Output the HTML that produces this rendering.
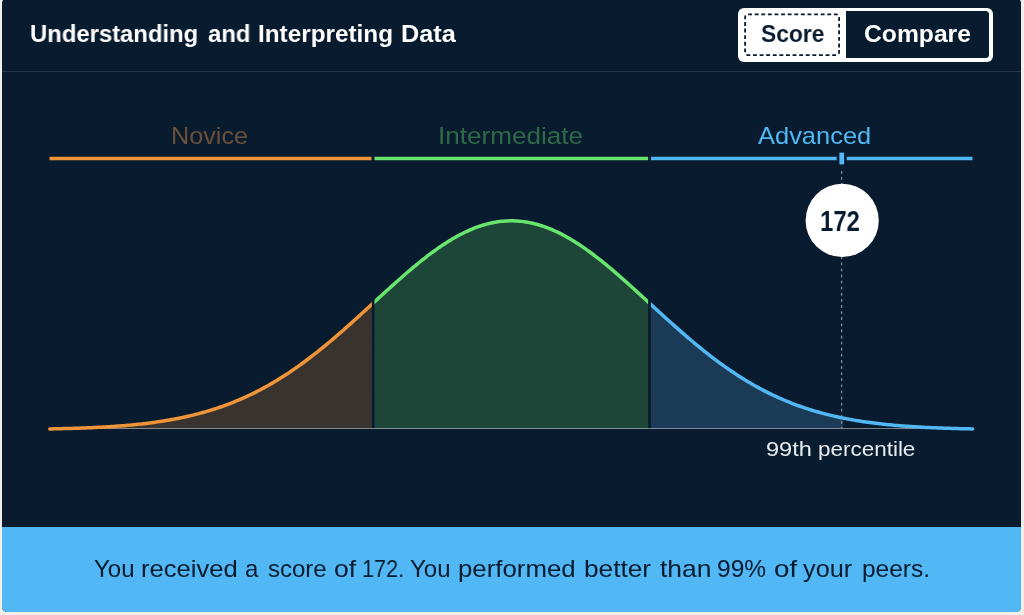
<!DOCTYPE html>
<html><head><meta charset="utf-8">
<style>
html,body{margin:0;padding:0;}
body{width:1024px;height:615px;background:#f2efe9;overflow:hidden;position:relative;font-family:"Liberation Sans",sans-serif;}
#panel{position:absolute;left:2px;top:-2px;width:1019px;height:614px;background:#091b2e;border-radius:5px;overflow:hidden;}
#divider{position:absolute;left:2px;top:71px;width:1019px;height:1px;background:#25344a;}
#toggle{position:absolute;left:738.3px;top:7.5px;width:254.7px;height:54.2px;border-radius:6px;background:#fff;}
#tin{position:absolute;left:845.9px;top:11px;width:143.4px;height:47.3px;border-radius:0 3.5px 3.5px 0;background:#091b2e;}
#score{position:absolute;left:738.3px;top:7.5px;width:107.6px;height:54.2px;background:#fff;border-radius:6px 0 0 6px;}
#dash{position:absolute;left:744.5px;top:13.5px;width:95px;height:42px;border:1.5px dashed #091b2e;border-radius:4px;box-sizing:border-box;}
#banner{position:absolute;left:0;top:529px;width:1019px;height:85px;background:#51b8f5;}
.t{position:absolute;white-space:nowrap;line-height:normal;transform-origin:0 0;will-change:transform;}
svg{position:absolute;left:0;top:0;}
</style></head><body>
<div id="panel"><div id="banner"></div></div>
<div id="divider"></div>
<div id="toggle"></div><div id="tin"></div>
<svg width="1024" height="615" viewBox="0 0 1024 615">
<line x1="49.5" y1="158.5" x2="371.5" y2="158.5" stroke="#f0943a" stroke-width="3.4"/>
<line x1="374.5" y1="158.5" x2="648.1" y2="158.5" stroke="#68e56e" stroke-width="3.4"/>
<line x1="651" y1="158.5" x2="972.5" y2="158.5" stroke="#51b8f5" stroke-width="3.4"/>
<rect x="836.7" y="151" width="10" height="16" fill="#091b2e"/>
<rect x="839.4" y="152.6" width="4.7" height="11.8" fill="#51b8f5"/>
<path d="M49.8,428.92 L51.8,428.88 L53.8,428.84 L55.8,428.80 L57.8,428.76 L59.8,428.71 L61.8,428.66 L63.8,428.61 L65.8,428.56 L67.8,428.51 L69.8,428.45 L71.8,428.39 L73.8,428.33 L75.8,428.26 L77.8,428.20 L79.8,428.13 L81.8,428.05 L83.8,427.98 L85.8,427.90 L87.8,427.82 L89.8,427.73 L91.8,427.64 L93.8,427.55 L95.8,427.45 L97.8,427.35 L99.8,427.25 L101.8,427.14 L103.8,427.03 L105.8,426.91 L107.8,426.79 L109.8,426.67 L111.8,426.54 L113.8,426.40 L115.8,426.26 L117.8,426.12 L119.8,425.97 L121.8,425.81 L123.8,425.65 L125.8,425.48 L127.8,425.30 L129.8,425.12 L131.8,424.94 L133.8,424.75 L135.8,424.55 L137.8,424.34 L139.8,424.12 L141.8,423.90 L143.8,423.67 L145.8,423.44 L147.8,423.19 L149.8,422.94 L151.8,422.68 L153.8,422.41 L155.8,422.13 L157.8,421.85 L159.8,421.55 L161.8,421.24 L163.8,420.93 L165.8,420.60 L167.8,420.27 L169.8,419.92 L171.8,419.57 L173.8,419.20 L175.8,418.82 L177.8,418.43 L179.8,418.03 L181.8,417.62 L183.8,417.20 L185.8,416.76 L187.8,416.31 L189.8,415.85 L191.8,415.38 L193.8,414.89 L195.8,414.39 L197.8,413.88 L199.8,413.35 L201.8,412.81 L203.8,412.25 L205.8,411.68 L207.8,411.09 L209.8,410.49 L211.8,409.88 L213.8,409.25 L215.8,408.60 L217.8,407.94 L219.8,407.26 L221.8,406.56 L223.8,405.85 L225.8,405.12 L227.8,404.38 L229.8,403.62 L231.8,402.84 L233.8,402.04 L235.8,401.22 L237.8,400.39 L239.8,399.54 L241.8,398.67 L243.8,397.78 L245.8,396.88 L247.8,395.95 L249.8,395.01 L251.8,394.05 L253.8,393.07 L255.8,392.07 L257.8,391.05 L259.8,390.01 L261.8,388.95 L263.8,387.87 L265.8,386.77 L267.8,385.66 L269.8,384.52 L271.8,383.37 L273.8,382.19 L275.8,381.00 L277.8,379.78 L279.8,378.55 L281.8,377.30 L283.8,376.02 L285.8,374.73 L287.8,373.42 L289.8,372.09 L291.8,370.74 L293.8,369.37 L295.8,367.98 L297.8,366.58 L299.8,365.15 L301.8,363.71 L303.8,362.25 L305.8,360.77 L307.8,359.27 L309.8,357.76 L311.8,356.23 L313.8,354.68 L315.8,353.12 L317.8,351.54 L319.8,349.94 L321.8,348.33 L323.8,346.70 L325.8,345.06 L327.8,343.40 L329.8,341.73 L331.8,340.05 L333.8,338.35 L335.8,336.64 L337.8,334.92 L339.8,333.19 L341.8,331.45 L343.8,329.69 L345.8,327.93 L347.8,326.16 L349.8,324.37 L351.8,322.58 L353.8,320.78 L355.8,318.98 L357.8,317.17 L359.8,315.35 L361.8,313.53 L363.8,311.70 L365.8,309.88 L367.8,308.04 L369.8,306.21 L371.8,304.37 L371.9,304.28 L371.9,428.7 L49.8,428.7 Z" fill="#39332f"/>
<path d="M374.5,301.89 L376.5,300.06 L378.5,298.22 L380.5,296.39 L382.5,294.56 L384.5,292.74 L386.5,290.91 L388.5,289.10 L390.5,287.29 L392.5,285.48 L394.5,283.69 L396.5,281.90 L398.5,280.13 L400.5,278.36 L402.5,276.60 L404.5,274.86 L406.5,273.13 L408.5,271.42 L410.5,269.71 L412.5,268.03 L414.5,266.36 L416.5,264.71 L418.5,263.07 L420.5,261.46 L422.5,259.87 L424.5,258.29 L426.5,256.74 L428.5,255.21 L430.5,253.71 L432.5,252.23 L434.5,250.77 L436.5,249.34 L438.5,247.94 L440.5,246.56 L442.5,245.21 L444.5,243.89 L446.5,242.61 L448.5,241.35 L450.5,240.12 L452.5,238.93 L454.5,237.77 L456.5,236.64 L458.5,235.54 L460.5,234.49 L462.5,233.46 L464.5,232.47 L466.5,231.52 L468.5,230.61 L470.5,229.73 L472.5,228.90 L474.5,228.10 L476.5,227.34 L478.5,226.62 L480.5,225.94 L482.5,225.30 L484.5,224.70 L486.5,224.15 L488.5,223.63 L490.5,223.16 L492.5,222.73 L494.5,222.34 L496.5,222.00 L498.5,221.70 L500.5,221.44 L502.5,221.22 L504.5,221.05 L506.5,220.93 L508.5,220.84 L510.5,220.80 L512.5,220.81 L514.5,220.86 L516.5,220.95 L518.5,221.08 L520.5,221.26 L522.5,221.49 L524.5,221.75 L526.5,222.06 L528.5,222.42 L530.5,222.81 L532.5,223.25 L534.5,223.73 L536.5,224.25 L538.5,224.82 L540.5,225.42 L542.5,226.07 L544.5,226.76 L546.5,227.49 L548.5,228.25 L550.5,229.06 L552.5,229.91 L554.5,230.79 L556.5,231.71 L558.5,232.67 L560.5,233.66 L562.5,234.69 L564.5,235.76 L566.5,236.86 L568.5,238.00 L570.5,239.16 L572.5,240.36 L574.5,241.60 L576.5,242.86 L578.5,244.16 L580.5,245.48 L582.5,246.83 L584.5,248.21 L586.5,249.62 L588.5,251.06 L590.5,252.52 L592.5,254.01 L594.5,255.52 L596.5,257.05 L598.5,258.61 L600.5,260.18 L602.5,261.78 L604.5,263.40 L606.5,265.04 L608.5,266.69 L610.5,268.36 L612.5,270.05 L614.5,271.76 L616.5,273.48 L618.5,275.21 L620.5,276.95 L622.5,278.71 L624.5,280.48 L626.5,282.26 L628.5,284.05 L630.5,285.84 L632.5,287.65 L634.5,289.46 L636.5,291.28 L638.5,293.10 L640.5,294.93 L642.5,296.76 L644.5,298.59 L646.5,300.43 L648.1,301.89 L648.1,428.7 L374.5,428.7 Z" fill="#1e4638"/>
<clipPath id="cf"><rect x="600" y="150" width="243.2" height="300"/></clipPath>
<path d="M650.9,304.46 L652.9,306.30 L654.9,308.13 L656.9,309.97 L658.9,311.80 L660.9,313.62 L662.9,315.44 L664.9,317.26 L666.9,319.07 L668.9,320.88 L670.9,322.67 L672.9,324.46 L674.9,326.24 L676.9,328.02 L678.9,329.78 L680.9,331.53 L682.9,333.28 L684.9,335.01 L686.9,336.73 L688.9,338.44 L690.9,340.13 L692.9,341.82 L694.9,343.49 L696.9,345.14 L698.9,346.78 L700.9,348.41 L702.9,350.02 L704.9,351.62 L706.9,353.19 L708.9,354.76 L710.9,356.31 L712.9,357.84 L714.9,359.35 L716.9,360.84 L718.9,362.32 L720.9,363.78 L722.9,365.22 L724.9,366.65 L726.9,368.05 L728.9,369.44 L730.9,370.81 L732.9,372.16 L734.9,373.48 L736.9,374.80 L738.9,376.09 L740.9,377.36 L742.9,378.61 L744.9,379.84 L746.9,381.06 L748.9,382.25 L750.9,383.42 L752.9,384.58 L754.9,385.71 L756.9,386.83 L758.9,387.93 L760.9,389.00 L762.9,390.06 L764.9,391.10 L766.9,392.12 L768.9,393.12 L770.9,394.10 L772.9,395.06 L774.9,396.00 L776.9,396.92 L778.9,397.83 L780.9,398.71 L782.9,399.58 L784.9,400.43 L786.9,401.26 L788.9,402.08 L790.9,402.87 L792.9,403.65 L794.9,404.42 L796.9,405.16 L798.9,405.89 L800.9,406.60 L802.9,407.29 L804.9,407.97 L806.9,408.63 L808.9,409.28 L810.9,409.91 L812.9,410.52 L814.9,411.12 L816.9,411.71 L818.9,412.28 L820.9,412.83 L822.9,413.38 L824.9,413.90 L826.9,414.42 L828.9,414.92 L830.9,415.40 L832.9,415.88 L834.9,416.34 L836.9,416.78 L838.9,417.22 L840.9,417.64 L842.9,418.05 L844.9,418.45 L846.9,418.84 L848.9,419.22 L850.9,419.59 L852.9,419.94 L854.9,420.29 L856.9,420.62 L858.9,420.95 L860.9,421.26 L862.9,421.57 L864.9,421.86 L866.9,422.15 L868.9,422.43 L870.9,422.69 L872.9,422.95 L874.9,423.21 L876.9,423.45 L878.9,423.69 L880.9,423.91 L882.9,424.14 L884.9,424.35 L886.9,424.56 L888.9,424.76 L890.9,424.95 L892.9,425.13 L894.9,425.31 L896.9,425.49 L898.9,425.66 L900.9,425.82 L902.9,425.97 L904.9,426.12 L906.9,426.27 L908.9,426.41 L910.9,426.54 L912.9,426.67 L914.9,426.80 L916.9,426.92 L918.9,427.04 L920.9,427.15 L922.9,427.26 L924.9,427.36 L926.9,427.46 L928.9,427.55 L930.9,427.65 L932.9,427.74 L934.9,427.82 L936.9,427.90 L938.9,427.98 L940.9,428.06 L942.9,428.13 L944.9,428.20 L946.9,428.27 L948.9,428.33 L950.9,428.39 L952.9,428.45 L954.9,428.51 L956.9,428.56 L958.9,428.61 L960.9,428.66 L962.9,428.71 L964.9,428.76 L966.9,428.80 L968.9,428.84 L970.9,428.88 L972.6,428.92 L972.6,428.7 L650.9,428.7 Z" fill="#1b3a55" clip-path="url(#cf)"/>
<line x1="49.5" y1="428.5" x2="973" y2="428.5" stroke="#fff" stroke-opacity="0.45" stroke-width="1"/>
<line x1="841.6" y1="170.9" x2="841.6" y2="428.6" stroke="#7f8997" stroke-width="1.3" stroke-dasharray="2.8,3.3"/>
<defs><clipPath id="cn"><rect x="44.8" y="150" width="327.09999999999997" height="300"/></clipPath>
<clipPath id="ci"><rect x="374.5" y="150" width="273.60" height="300"/></clipPath>
<clipPath id="ca"><rect x="650.9" y="150" width="326.70" height="300"/></clipPath></defs>
<path d="M49.8,428.92 L51.8,428.88 L53.8,428.84 L55.8,428.80 L57.8,428.76 L59.8,428.71 L61.8,428.66 L63.8,428.61 L65.8,428.56 L67.8,428.51 L69.8,428.45 L71.8,428.39 L73.8,428.33 L75.8,428.26 L77.8,428.20 L79.8,428.13 L81.8,428.05 L83.8,427.98 L85.8,427.90 L87.8,427.82 L89.8,427.73 L91.8,427.64 L93.8,427.55 L95.8,427.45 L97.8,427.35 L99.8,427.25 L101.8,427.14 L103.8,427.03 L105.8,426.91 L107.8,426.79 L109.8,426.67 L111.8,426.54 L113.8,426.40 L115.8,426.26 L117.8,426.12 L119.8,425.97 L121.8,425.81 L123.8,425.65 L125.8,425.48 L127.8,425.30 L129.8,425.12 L131.8,424.94 L133.8,424.75 L135.8,424.55 L137.8,424.34 L139.8,424.12 L141.8,423.90 L143.8,423.67 L145.8,423.44 L147.8,423.19 L149.8,422.94 L151.8,422.68 L153.8,422.41 L155.8,422.13 L157.8,421.85 L159.8,421.55 L161.8,421.24 L163.8,420.93 L165.8,420.60 L167.8,420.27 L169.8,419.92 L171.8,419.57 L173.8,419.20 L175.8,418.82 L177.8,418.43 L179.8,418.03 L181.8,417.62 L183.8,417.20 L185.8,416.76 L187.8,416.31 L189.8,415.85 L191.8,415.38 L193.8,414.89 L195.8,414.39 L197.8,413.88 L199.8,413.35 L201.8,412.81 L203.8,412.25 L205.8,411.68 L207.8,411.09 L209.8,410.49 L211.8,409.88 L213.8,409.25 L215.8,408.60 L217.8,407.94 L219.8,407.26 L221.8,406.56 L223.8,405.85 L225.8,405.12 L227.8,404.38 L229.8,403.62 L231.8,402.84 L233.8,402.04 L235.8,401.22 L237.8,400.39 L239.8,399.54 L241.8,398.67 L243.8,397.78 L245.8,396.88 L247.8,395.95 L249.8,395.01 L251.8,394.05 L253.8,393.07 L255.8,392.07 L257.8,391.05 L259.8,390.01 L261.8,388.95 L263.8,387.87 L265.8,386.77 L267.8,385.66 L269.8,384.52 L271.8,383.37 L273.8,382.19 L275.8,381.00 L277.8,379.78 L279.8,378.55 L281.8,377.30 L283.8,376.02 L285.8,374.73 L287.8,373.42 L289.8,372.09 L291.8,370.74 L293.8,369.37 L295.8,367.98 L297.8,366.58 L299.8,365.15 L301.8,363.71 L303.8,362.25 L305.8,360.77 L307.8,359.27 L309.8,357.76 L311.8,356.23 L313.8,354.68 L315.8,353.12 L317.8,351.54 L319.8,349.94 L321.8,348.33 L323.8,346.70 L325.8,345.06 L327.8,343.40 L329.8,341.73 L331.8,340.05 L333.8,338.35 L335.8,336.64 L337.8,334.92 L339.8,333.19 L341.8,331.45 L343.8,329.69 L345.8,327.93 L347.8,326.16 L349.8,324.37 L351.8,322.58 L353.8,320.78 L355.8,318.98 L357.8,317.17 L359.8,315.35 L361.8,313.53 L363.8,311.70 L365.8,309.88 L367.8,308.04 L369.8,306.21 L371.8,304.37 L373.8,302.54 L374.9,301.53" fill="none" stroke="#f0943a" stroke-width="3.5" stroke-linecap="round" clip-path="url(#cn)"/>
<path d="M371.5,304.65 L373.5,302.81 L375.5,300.98 L377.5,299.14 L379.5,297.31 L381.5,295.48 L383.5,293.65 L385.5,291.82 L387.5,290.01 L389.5,288.19 L391.5,286.39 L393.5,284.59 L395.5,282.80 L397.5,281.01 L399.5,279.24 L401.5,277.48 L403.5,275.73 L405.5,273.99 L407.5,272.27 L409.5,270.56 L411.5,268.87 L413.5,267.19 L415.5,265.53 L417.5,263.89 L419.5,262.26 L421.5,260.66 L423.5,259.08 L425.5,257.51 L427.5,255.97 L429.5,254.46 L431.5,252.96 L433.5,251.49 L435.5,250.05 L437.5,248.63 L439.5,247.24 L441.5,245.88 L443.5,244.55 L445.5,243.25 L447.5,241.97 L449.5,240.73 L451.5,239.52 L453.5,238.34 L455.5,237.20 L457.5,236.09 L459.5,235.01 L461.5,233.97 L463.5,232.96 L465.5,231.99 L467.5,231.06 L469.5,230.17 L471.5,229.31 L473.5,228.49 L475.5,227.71 L477.5,226.97 L479.5,226.27 L481.5,225.61 L483.5,225.00 L485.5,224.42 L487.5,223.88 L489.5,223.39 L491.5,222.94 L493.5,222.53 L495.5,222.16 L497.5,221.84 L499.5,221.56 L501.5,221.33 L503.5,221.13 L505.5,220.98 L507.5,220.88 L509.5,220.82 L511.5,220.80 L513.5,220.83 L515.5,220.90 L517.5,221.01 L519.5,221.17 L521.5,221.37 L523.5,221.61 L525.5,221.90 L527.5,222.23 L529.5,222.61 L531.5,223.03 L533.5,223.49 L535.5,223.99 L537.5,224.53 L539.5,225.12 L541.5,225.74 L543.5,226.41 L545.5,227.12 L547.5,227.87 L549.5,228.65 L551.5,229.48 L553.5,230.34 L555.5,231.24 L557.5,232.18 L559.5,233.16 L561.5,234.17 L563.5,235.22 L565.5,236.31 L567.5,237.42 L569.5,238.58 L571.5,239.76 L573.5,240.98 L575.5,242.23 L577.5,243.50 L579.5,244.81 L581.5,246.15 L583.5,247.52 L585.5,248.92 L587.5,250.34 L589.5,251.79 L591.5,253.26 L593.5,254.76 L595.5,256.28 L597.5,257.82 L599.5,259.39 L601.5,260.98 L603.5,262.59 L605.5,264.22 L607.5,265.86 L609.5,267.53 L611.5,269.21 L613.5,270.90 L615.5,272.61 L617.5,274.34 L619.5,276.08 L621.5,277.83 L623.5,279.59 L625.5,281.37 L627.5,283.15 L629.5,284.95 L631.5,286.75 L633.5,288.55 L635.5,290.37 L637.5,292.19 L639.5,294.01 L641.5,295.84 L643.5,297.67 L645.5,299.51 L647.5,301.34 L649.5,303.18 L651.1,304.65" fill="none" stroke="#68e56e" stroke-width="3.5" stroke-linecap="round" clip-path="url(#ci)"/>
<path d="M647.9,301.71 L649.9,303.55 L651.9,305.38 L653.9,307.22 L655.9,309.05 L657.9,310.88 L659.9,312.71 L661.9,314.53 L663.9,316.35 L665.9,318.17 L667.9,319.97 L669.9,321.77 L671.9,323.57 L673.9,325.35 L675.9,327.13 L677.9,328.90 L679.9,330.66 L681.9,332.41 L683.9,334.15 L685.9,335.87 L687.9,337.59 L689.9,339.29 L691.9,340.98 L693.9,342.65 L695.9,344.32 L697.9,345.96 L699.9,347.60 L701.9,349.22 L703.9,350.82 L705.9,352.41 L707.9,353.98 L709.9,355.53 L711.9,357.07 L713.9,358.59 L715.9,360.10 L717.9,361.58 L719.9,363.05 L721.9,364.50 L723.9,365.94 L725.9,367.35 L727.9,368.75 L729.9,370.13 L731.9,371.48 L733.9,372.82 L735.9,374.14 L737.9,375.44 L739.9,376.72 L741.9,377.99 L743.9,379.23 L745.9,380.45 L747.9,381.66 L749.9,382.84 L751.9,384.00 L753.9,385.15 L755.9,386.27 L757.9,387.38 L759.9,388.47 L761.9,389.53 L763.9,390.58 L765.9,391.61 L767.9,392.62 L769.9,393.61 L771.9,394.58 L773.9,395.53 L775.9,396.46 L777.9,397.38 L779.9,398.27 L781.9,399.15 L783.9,400.01 L785.9,400.85 L787.9,401.67 L789.9,402.48 L791.9,403.27 L793.9,404.04 L795.9,404.79 L797.9,405.53 L799.9,406.25 L801.9,406.95 L803.9,407.63 L805.9,408.30 L807.9,408.96 L809.9,409.60 L811.9,410.22 L813.9,410.83 L815.9,411.42 L817.9,412.00 L819.9,412.56 L821.9,413.11 L823.9,413.64 L825.9,414.16 L827.9,414.67 L829.9,415.16 L831.9,415.64 L833.9,416.11 L835.9,416.56 L837.9,417.00 L839.9,417.43 L841.9,417.85 L843.9,418.26 L845.9,418.65 L847.9,419.03 L849.9,419.40 L851.9,419.77 L853.9,420.12 L855.9,420.45 L857.9,420.78 L859.9,421.10 L861.9,421.41 L863.9,421.71 L865.9,422.01 L867.9,422.29 L869.9,422.56 L871.9,422.83 L873.9,423.08 L875.9,423.33 L877.9,423.57 L879.9,423.80 L881.9,424.03 L883.9,424.24 L885.9,424.45 L887.9,424.66 L889.9,424.85 L891.9,425.04 L893.9,425.22 L895.9,425.40 L897.9,425.57 L899.9,425.74 L901.9,425.90 L903.9,426.05 L905.9,426.20 L907.9,426.34 L909.9,426.48 L911.9,426.61 L913.9,426.74 L915.9,426.86 L917.9,426.98 L919.9,427.09 L921.9,427.20 L923.9,427.31 L925.9,427.41 L927.9,427.51 L929.9,427.60 L931.9,427.69 L933.9,427.78 L935.9,427.86 L937.9,427.94 L939.9,428.02 L941.9,428.09 L943.9,428.17 L945.9,428.23 L947.9,428.30 L949.9,428.36 L951.9,428.42 L953.9,428.48 L955.9,428.54 L957.9,428.59 L959.9,428.64 L961.9,428.69 L963.9,428.74 L965.9,428.78 L967.9,428.82 L969.9,428.86 L971.9,428.90 L972.6,428.92" fill="none" stroke="#51b8f5" stroke-width="3.5" stroke-linecap="round" clip-path="url(#ca)"/>
<rect x="745.1" y="14.3" width="94" height="40.8" rx="3" fill="none" stroke="#091b2e" stroke-width="1.8" stroke-dasharray="3.9 2.7"/>
<circle cx="842.2" cy="220.4" r="36.6" fill="#fff"/>
</svg>
<span class="t" style="left:30.02px;top:20.20px;font-size:24.3px;font-weight:bold;color:#fff;transform:scaleX(0.9812);">Understanding</span>
<span class="t" style="left:207.50px;top:20.20px;font-size:24.3px;font-weight:bold;color:#fff;transform:scaleX(0.9846);">and</span>
<span class="t" style="left:258.20px;top:20.20px;font-size:24.3px;font-weight:bold;color:#fff;transform:scaleX(0.9967);">Interpreting</span>
<span class="t" style="left:400.66px;top:20.20px;font-size:24.3px;font-weight:bold;color:#fff;transform:scaleX(1.0412);">Data</span>
<span class="t" style="left:761.20px;top:20.20px;font-size:24.3px;font-weight:bold;color:#091b2e;transform:scaleX(0.9386);">Score</span>
<span class="t" style="left:863.68px;top:20.20px;font-size:24.3px;font-weight:bold;color:#fff;transform:scaleX(1.0154);">Compare</span>
<span class="t" style="left:171.35px;top:121.70px;font-size:24px;font-weight:normal;color:#6b5039;transform:scaleX(1.0498);">Novice</span>
<span class="t" style="left:437.65px;top:121.60px;font-size:24.3px;font-weight:normal;color:#2f6a48;transform:scaleX(1.0744);">Intermediate</span>
<span class="t" style="left:757.60px;top:122.10px;font-size:24px;font-weight:normal;color:#51b8f5;transform:scaleX(1.0607);">Advanced</span>
<span class="t" style="left:765.90px;top:437.70px;font-size:20px;font-weight:normal;color:#e8ecf0;transform:scaleX(1.1798);">99th</span>
<span class="t" style="left:817.98px;top:437.70px;font-size:20px;font-weight:normal;color:#e8ecf0;transform:scaleX(1.1227);">percentile</span>
<span class="t" style="left:94.30px;top:554.70px;font-size:24px;font-weight:normal;color:#091b2e;transform:scaleX(0.9936);">You</span>
<span class="t" style="left:141.43px;top:554.70px;font-size:24px;font-weight:normal;color:#091b2e;transform:scaleX(1.0671);">received</span>
<span class="t" style="left:244.81px;top:554.70px;font-size:24px;font-weight:normal;color:#091b2e;transform:scaleX(0.9923);">a</span>
<span class="t" style="left:267.50px;top:554.70px;font-size:24px;font-weight:normal;color:#091b2e;transform:scaleX(0.9942);">score</span>
<span class="t" style="left:334.39px;top:554.70px;font-size:24px;font-weight:normal;color:#091b2e;transform:scaleX(1.1061);">of</span>
<span class="t" style="left:362.10px;top:554.70px;font-size:24px;font-weight:normal;color:#091b2e;transform:scaleX(0.9014);">172.</span>
<span class="t" style="left:410.00px;top:554.70px;font-size:24px;font-weight:normal;color:#091b2e;transform:scaleX(0.9884);">You</span>
<span class="t" style="left:457.92px;top:554.70px;font-size:24px;font-weight:normal;color:#091b2e;transform:scaleX(1.0753);">performed</span>
<span class="t" style="left:583.51px;top:554.70px;font-size:24px;font-weight:normal;color:#091b2e;transform:scaleX(1.0931);">better</span>
<span class="t" style="left:659.60px;top:554.70px;font-size:24px;font-weight:normal;color:#091b2e;transform:scaleX(1.1022);">than</span>
<span class="t" style="left:717.18px;top:554.70px;font-size:24px;font-weight:normal;color:#091b2e;transform:scaleX(1.0215);">99%</span>
<span class="t" style="left:773.65px;top:554.70px;font-size:24px;font-weight:normal;color:#091b2e;transform:scaleX(1.1526);">of</span>
<span class="t" style="left:803.00px;top:554.70px;font-size:24px;font-weight:normal;color:#091b2e;transform:scaleX(1.0536);">your</span>
<span class="t" style="left:861.68px;top:554.70px;font-size:24px;font-weight:normal;color:#091b2e;transform:scaleX(1.0198);">peers.</span>
<span class="t" style="left:820.39px;top:204.00px;font-size:29.5px;font-weight:bold;color:#091b2e;transform:scaleX(0.8094);">172</span>
</body></html>
